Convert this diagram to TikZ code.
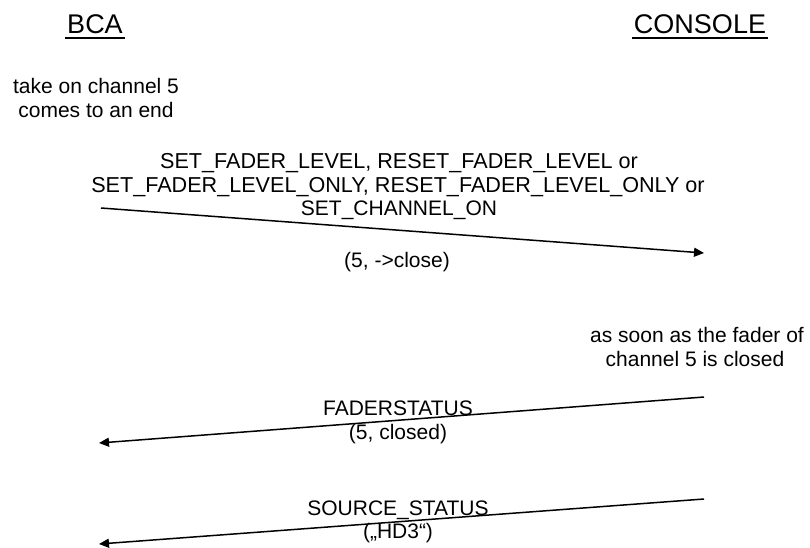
\documentclass[tikz,border=0pt]{standalone}
\usepackage{fontspec}
\setmainfont{Liberation Sans}
\usetikzlibrary{arrows.meta}
\begin{document}
\begin{tikzpicture}[x=1pt,y=-1pt,
  title/.style={inner sep=0pt,anchor=base,font=\fontsize{27}{30}\selectfont},
  lbl/.style={inner sep=0pt,anchor=base,font=\fontsize{21}{24}\selectfont},
  biglbl/.style={lbl,font=\fontsize{21.6}{24}\selectfont},
  msg/.style={line width=1.5pt,-{Triangle[length=10pt,width=9pt]}}]
\useasboundingbox (0,0) rectangle (810,547);
% titles
\node[title] (bca) at (95,33) {BCA};
\node[title] (console) at (700,33) {CONSOLE};
\draw[line width=2.5pt] ([yshift=-5pt,xshift=-2pt]bca.base west) -- ([yshift=-5pt,xshift=2pt]bca.base east);
\draw[line width=2.5pt] ([yshift=-5pt,xshift=-2pt]console.base west) -- ([yshift=-5pt,xshift=2pt]console.base east);
% first event
\node[lbl] (ev1a) at (96,93) {take on channel 5};
\node[lbl] (ev1b) at (96,117) {comes to an end};
% message 1
\node[biglbl] (m1a) at (399,168) {SET\_FADER\_LEVEL, RESET\_FADER\_LEVEL or};
\node[biglbl] (m1b) at (398,192) {SET\_FADER\_LEVEL\_ONLY, RESET\_FADER\_LEVEL\_ONLY or};
\node[lbl] (m1c) at (399,215) {SET\_CHANNEL\_ON};
\node[lbl] (m1d) at (397,267) {(5, ->close)};
\coordinate (a1s) at (101,208);
\coordinate (a1e) at (704,253);
\draw[msg] (a1s) -- (a1e);
% second event
\node[lbl] (ev2a) at (697,342) {as soon as the fader of};
\node[lbl] (ev2b) at (695,366) {channel 5 is closed};
% message 2
\node[lbl] (m2a) at (398,415) {FADERSTATUS};
\node[lbl] (m2b) at (398,439) {(5, closed)};
\coordinate (a2s) at (704,397);
\coordinate (a2e) at (99,443);
\draw[msg] (a2s) -- (a2e);
% message 3
\node[lbl] (m3a) at (398,515) {SOURCE\_STATUS};
\node[lbl] (m3b) at (398,538) {(„HD3“)};
\coordinate (a3s) at (704,499);
\coordinate (a3e) at (99,544);
\draw[msg] (a3s) -- (a3e);
\end{tikzpicture}
\end{document}
